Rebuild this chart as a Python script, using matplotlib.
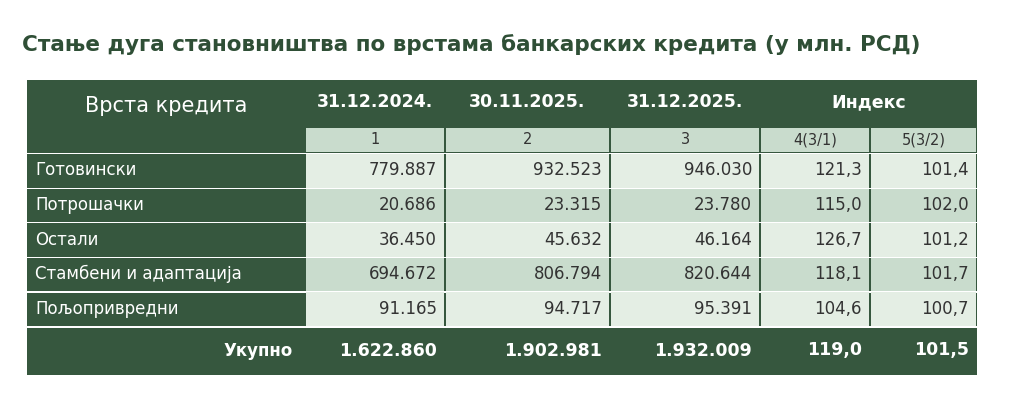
import matplotlib.pyplot as plt
from matplotlib.patches import Rectangle

title = "Стање дуга становништва по врстама банкарских кредита (у млн. РСД)"
header = ["Врста кредита", "31.12.2024.", "30.11.2025.", "31.12.2025.", "Индекс"]
subheader = ["1", "2", "3", "4(3/1)", "5(3/2)"]
categories = ["Готовински", "Потрошачки", "Остали", "Стамбени и адаптација", "Пољопривредни"]
col_1 = ["779.887", "20.686", "36.450", "694.672", "91.165"]
col_2 = ["932.523", "23.315", "45.632", "806.794", "94.717"]
col_3 = ["946.030", "23.780", "46.164", "820.644", "95.391"]
col_4 = ["121,3", "115,0", "126,7", "118,1", "104,6"]
col_5 = ["101,4", "102,0", "101,2", "101,7", "100,7"]
total = ["Укупно", "1.622.860", "1.902.981", "1.932.009", "119,0", "101,5"]

DARK = "#36573e"
LIGHT_A = "#e4eee4"
LIGHT_B = "#c9dccd"
TITLE_C = "#2f4f36"

fig = plt.figure(figsize=(10.09, 4.17), dpi=100)
ax = fig.add_axes([0, 0, 1, 1])
ax.set_xlim(0, 1009)
ax.set_ylim(417, 0)
ax.axis("off")

# column edges and row edges in pixel space
xs = [27, 305, 445, 610, 760, 870, 977]
y_top, y_sub, y_body = 80, 127, 153
row_h = 34.6
y_tot = y_body + row_h * 5
y_end = 375

ax.text(22, 45, title, fontsize=15.5, fontweight="bold", color=TITLE_C, va="center")

# dark background
ax.add_patch(Rectangle((xs[0], y_top), xs[-1] - xs[0], y_end - y_top, color=DARK, lw=0))

# header
ax.text((xs[0] + xs[1]) / 2, 106, header[0], color="white", fontsize=15, ha="center", va="center")
for i in range(3):
    ax.text((xs[i + 1] + xs[i + 2]) / 2, 102, header[i + 1], color="white", fontsize=12.5,
            fontweight="bold", ha="center", va="center")
ax.text((xs[4] + xs[6]) / 2, 102, header[4], color="white", fontsize=12.5,
        fontweight="bold", ha="center", va="center")

# subheader cells
for i in range(5):
    ax.add_patch(Rectangle((xs[i + 1] + 1, y_sub + 1), xs[i + 2] - xs[i + 1] - 2, y_body - y_sub - 2,
                           color=LIGHT_B, lw=0))
    ax.text((xs[i + 1] + xs[i + 2]) / 2, (y_sub + y_body) / 2, subheader[i], color="#333333",
            fontsize=10.5, ha="center", va="center")

# body
cols = [col_1, col_2, col_3, col_4, col_5]
for r, cat in enumerate(categories):
    y0 = y_body + r * row_h
    yc = y0 + row_h / 2
    ax.add_patch(Rectangle((xs[0], y0), xs[-1] - xs[0], 1.2, color="white", lw=0))
    ax.text(xs[0] + 8, yc, cat, color="white", fontsize=12, va="center")
    fill = LIGHT_A if r % 2 == 0 else LIGHT_B
    for i in range(5):
        ax.add_patch(Rectangle((xs[i + 1] + 1, y0 + 1), xs[i + 2] - xs[i + 1] - 2, row_h - 1,
                               color=fill, lw=0))
        ax.text(xs[i + 2] - 8, yc, cols[i][r], color="#333333", fontsize=12,
                ha="right", va="center")
ax.add_patch(Rectangle((xs[0], y_tot), xs[-1] - xs[0], 1.5, color="white", lw=0))

# total row
yc = (y_tot + y_end) / 2
ax.text(xs[1] - 12, yc, total[0], color="white", fontsize=12, fontweight="bold",
        ha="right", va="center")
for i in range(5):
    ax.text(xs[i + 2] - 8, yc, total[i + 1], color="white", fontsize=12.5, fontweight="bold",
            ha="right", va="center")

fig.savefig("out.png", dpi=100, facecolor="white")
